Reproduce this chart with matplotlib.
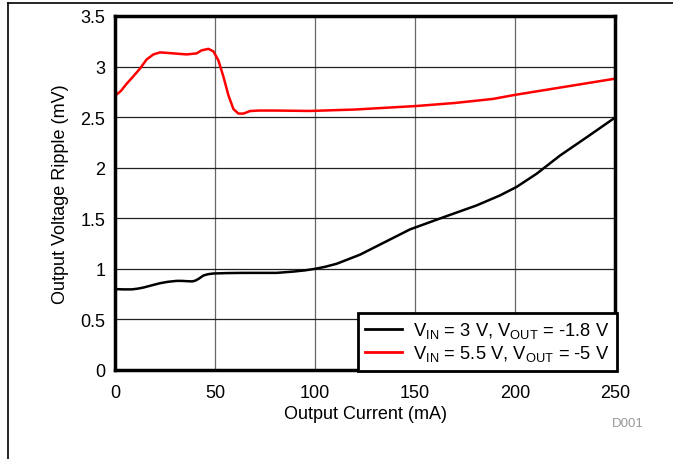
import matplotlib
matplotlib.use('Agg')
import matplotlib.pyplot as plt
from matplotlib.lines import Line2D
import numpy as np

plt.rcParams['font.family'] = ['Liberation Sans', 'DejaVu Sans']
plt.rcParams['mathtext.fontset'] = 'custom'
plt.rcParams['mathtext.rm'] = 'Liberation Sans'

# VIN = 3 V, VOUT = -1.8 V
i_3v = [0, 4, 8.3, 11, 14.2, 18, 22.5, 26.5, 30.8, 33.5, 35.8, 38.5, 40, 41.7, 44.2, 46.5, 49.2, 56, 64.2, 80.8, 89.2, 95, 100,
        105, 110.8, 116, 122.5, 134.2, 147.5, 164.2, 180.8, 192.5, 200.8, 210.8, 222.5, 235.8, 250]
r_3v = [0.80, 0.797, 0.797, 0.803, 0.815, 0.835, 0.858, 0.872, 0.881, 0.881, 0.878, 0.876, 0.882, 0.90, 0.934, 0.947, 0.954, 0.958, 0.96, 0.96, 0.973, 0.985, 1.0,
        1.02, 1.05, 1.09, 1.14, 1.257, 1.39, 1.51, 1.627, 1.726, 1.81, 1.94, 2.12, 2.30, 2.495]

# VIN = 5.5 V, VOUT = -5 V
i_55v = [0, 3, 5.8, 9, 12.5, 15.8, 19.2, 22.5, 26, 29.2, 35.8, 40.8, 43.3, 46.7, 49.2, 51.7, 54.2, 56.7,
         59.2, 61.7, 64.2, 67.5, 72, 80, 97.5, 120, 150.8, 170, 189, 200, 225, 250]
r_55v = [2.71, 2.76, 2.83, 2.90, 2.98, 3.07, 3.12, 3.14, 3.135, 3.13, 3.12, 3.13, 3.16, 3.175, 3.15, 3.06, 2.90, 2.716,
         2.58, 2.535, 2.535, 2.56, 2.565, 2.565, 2.561, 2.575, 2.61, 2.64, 2.68, 2.72, 2.80, 2.88]

x_ticks = [0, 50, 100, 150, 200, 250]
y_ticks = [0, 0.5, 1, 1.5, 2, 2.5, 3, 3.5]
y_tick_labels = ['0', '0.5', '1', '1.5', '2', '2.5', '3', '3.5']

fig = plt.figure(figsize=(6.73, 4.6), dpi=100)
ax = fig.add_axes([0.1709, 0.1935, 0.7429, 0.7696])

ax.plot(i_3v, r_3v, color='black', lw=1.8, label=r'V$_{\mathregular{IN}}$ = 3 V, V$_{\mathregular{OUT}}$ = -1.8 V')
ax.plot(i_55v, r_55v, color='red', lw=1.8, label=r'V$_{\mathregular{IN}}$ = 5.5 V, V$_{\mathregular{OUT}}$ = -5 V')

ax.set_xlim(0, 250)
ax.set_ylim(0, 3.5)
ax.set_xticks(x_ticks)
ax.set_yticks(y_ticks)
ax.set_yticklabels(y_tick_labels)
ax.tick_params(axis='both', length=0, labelsize=13)
ax.tick_params(axis='x', pad=10)
ax.tick_params(axis='y', pad=7)

ax.grid(axis='y', color='#222222', lw=0.9)
ax.grid(axis='x', color='#666666', lw=0.9)
ax.set_axisbelow(True)
for s in ax.spines.values():
    s.set_linewidth(2.5)
    s.set_color('black')

ax.set_xlabel('Output Current (mA)', fontsize=13, labelpad=3)
ax.set_ylabel('Output Voltage Ripple (mV)', fontsize=13, labelpad=8)

leg = ax.legend(loc='lower right', fontsize=13.2, frameon=True, fancybox=False,
                borderaxespad=0, handlelength=2.0, handletextpad=0.6,
                labelspacing=0.18, borderpad=0.4, bbox_to_anchor=(1.004, -0.002))
leg.get_frame().set_edgecolor('black')
leg.get_frame().set_linewidth(2)
leg.get_frame().set_alpha(1)
for h in leg.get_lines():
    h.set_linewidth(2)

fig.text(628 / 673, 1 - 424 / 460, 'D001', color='#999999', fontsize=9.5, ha='center', va='center')

# frame lines top and left
fig.add_artist(Line2D([8 / 673, 1], [1 - 4.3 / 460] * 2, color='black', lw=1.2))
fig.add_artist(Line2D([8.3 / 673] * 2, [0, 1 - 4.3 / 460], color='black', lw=1.2))

fig.savefig('out.png', dpi=100)
